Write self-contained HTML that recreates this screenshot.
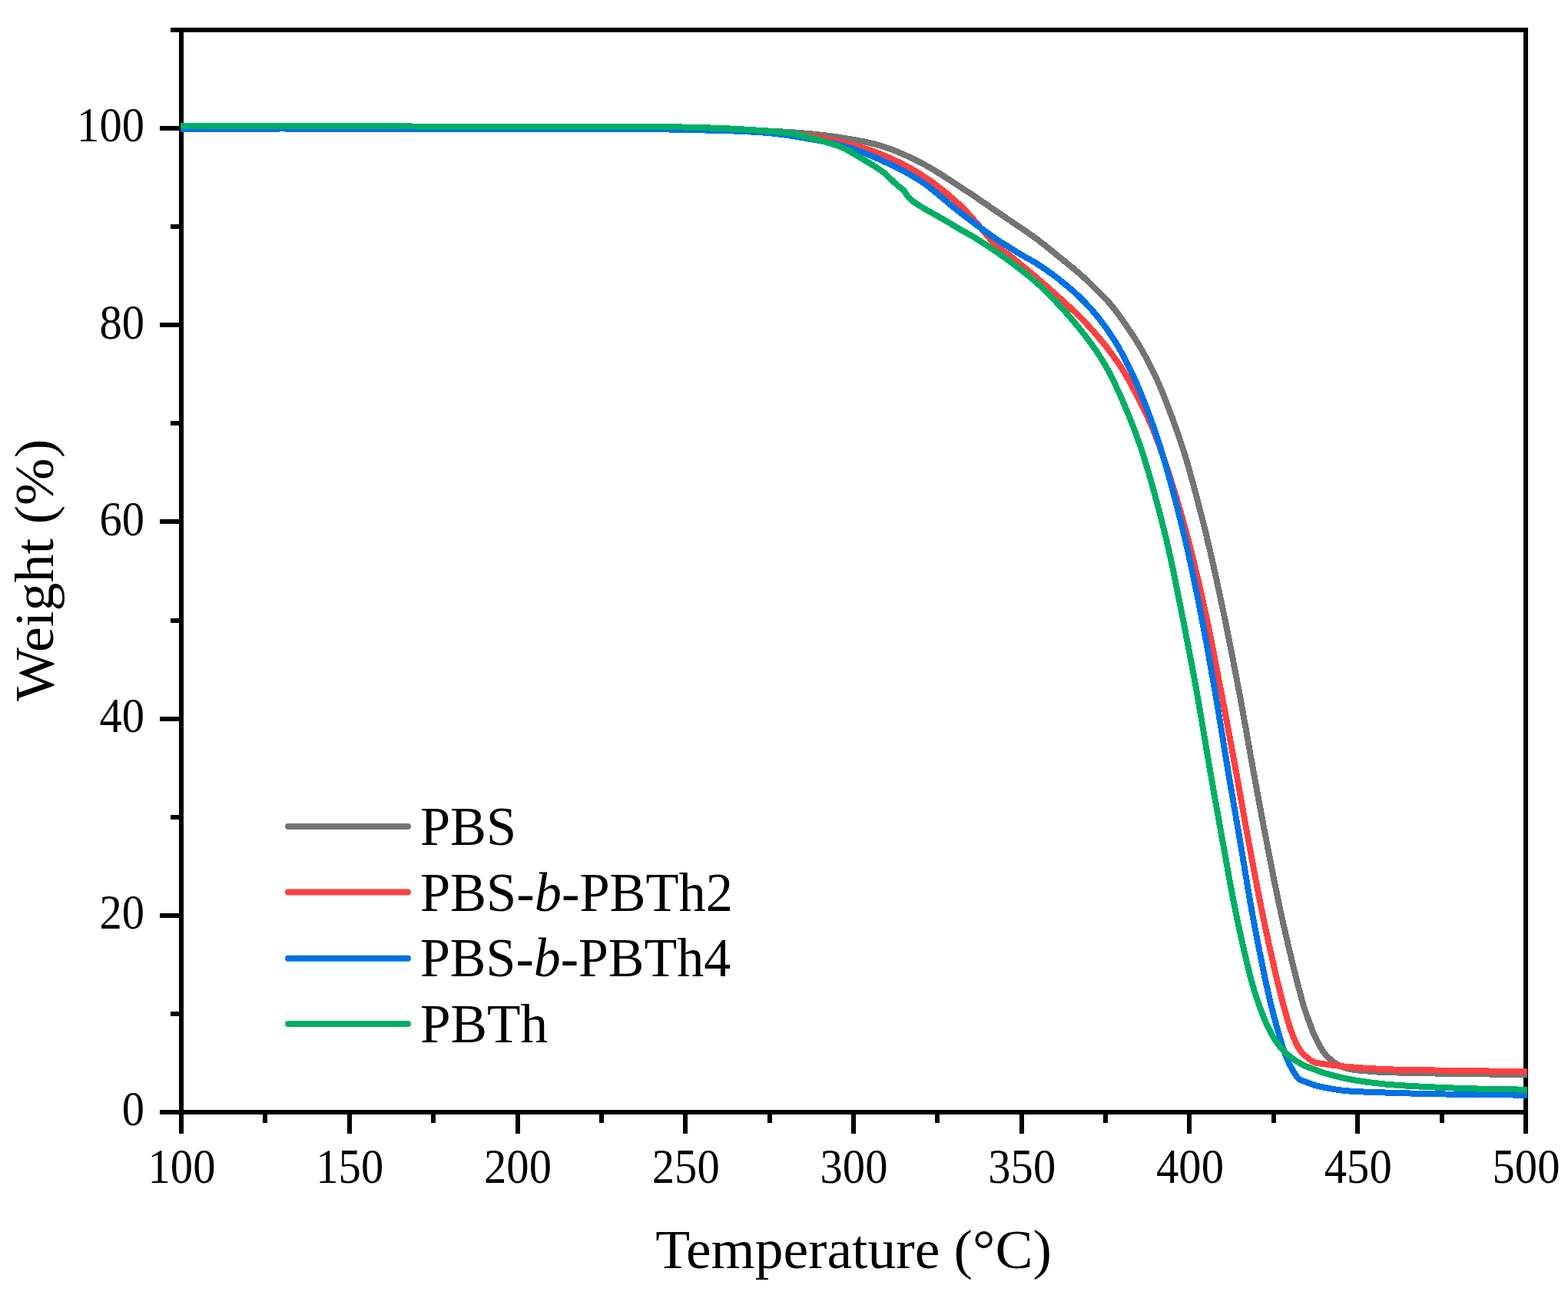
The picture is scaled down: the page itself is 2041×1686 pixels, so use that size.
<!DOCTYPE html>
<html><head><meta charset="utf-8"><title>TGA curves</title>
<style>html,body{margin:0;padding:0;background:#fff;}svg{display:block;}</style>
</head><body>
<svg width="2041" height="1686" viewBox="0 0 2041 1686"><rect width="2041" height="1686" fill="#fff"/><g stroke="#000" stroke-width="6" fill="none" stroke-linecap="butt" shape-rendering="crispEdges"><path d="M236 36 V1451 M1986 36 V1451 M233 39 H1989 M233 1448 H1989"/><path d="M208 1448 H233"/><path d="M222 1320 H233"/><path d="M208 1192 H233"/><path d="M222 1064 H233"/><path d="M208 936 H233"/><path d="M222 808 H233"/><path d="M208 679 H233"/><path d="M222 551 H233"/><path d="M208 423 H233"/><path d="M222 295 H233"/><path d="M208 167 H233"/><path d="M222 39 H233"/><path d="M236 1451 V1476"/><path d="M345 1451 V1462"/><path d="M455 1451 V1476"/><path d="M564 1451 V1462"/><path d="M674 1451 V1476"/><path d="M783 1451 V1462"/><path d="M892 1451 V1476"/><path d="M1002 1451 V1462"/><path d="M1111 1451 V1476"/><path d="M1220 1451 V1462"/><path d="M1330 1451 V1476"/><path d="M1439 1451 V1462"/><path d="M1548 1451 V1476"/><path d="M1658 1451 V1462"/><path d="M1767 1451 V1476"/><path d="M1877 1451 V1462"/><path d="M1986 1451 V1476"/></g><g fill="none" stroke-width="8" stroke-linejoin="round" stroke-linecap="butt" shape-rendering="crispEdges"><path stroke="#747474" d="M235.0 166.0 L241.1 166.0 L247.2 166.0 L253.3 166.0 L259.4 166.0 L265.6 166.0 L271.7 166.0 L277.9 166.0 L284.0 166.0 L290.2 166.0 L296.4 166.0 L302.6 166.0 L308.8 166.0 L315.0 166.0 L321.2 166.0 L327.4 166.0 L333.6 166.0 L339.8 166.0 L346.0 166.0 L352.2 166.0 L358.5 166.0 L364.7 166.0 L370.9 165.9 L377.1 165.9 L383.3 165.9 L389.5 165.9 L395.7 165.9 L401.9 165.9 L408.1 165.9 L414.3 165.9 L420.5 165.9 L426.7 165.9 L432.9 165.9 L439.0 165.9 L445.2 165.9 L451.3 165.9 L457.5 165.9 L463.6 165.9 L469.7 165.9 L475.8 165.9 L481.9 165.9 L488.0 165.9 L494.1 165.9 L500.1 165.9 L506.1 165.9 L512.1 165.9 L518.1 165.9 L524.1 165.9 L530.1 165.9 L536.0 165.9 L542.0 165.9 L547.9 165.9 L553.8 165.9 L559.6 165.9 L565.5 166.0 L571.3 166.0 L577.1 166.0 L582.8 166.0 L588.6 166.0 L594.3 166.0 L600.0 166.0 L606.5 166.0 L613.0 166.0 L619.5 166.0 L626.1 166.0 L632.7 166.0 L639.2 166.0 L645.8 166.0 L652.4 166.1 L658.9 166.1 L665.5 166.1 L672.1 166.1 L678.6 166.1 L685.2 166.1 L691.7 166.1 L698.2 166.1 L704.7 166.1 L711.2 166.1 L717.7 166.1 L724.1 166.1 L730.6 166.1 L736.9 166.1 L743.3 166.1 L749.6 166.1 L755.9 166.1 L762.2 166.1 L768.4 166.2 L774.5 166.2 L780.6 166.2 L786.7 166.2 L792.7 166.2 L798.7 166.3 L804.6 166.3 L810.4 166.3 L816.2 166.3 L821.9 166.4 L827.6 166.4 L833.2 166.5 L838.7 166.5 L844.1 166.6 L849.5 166.6 L854.8 166.7 L860.0 166.7 L865.1 166.8 L870.2 166.9 L875.1 166.9 L880.0 167.0 L887.2 167.1 L894.3 167.3 L901.2 167.4 L908.0 167.5 L914.7 167.7 L921.3 167.8 L927.8 168.0 L934.1 168.1 L940.3 168.3 L946.4 168.5 L952.3 168.7 L958.1 168.9 L963.8 169.0 L969.4 169.2 L974.8 169.4 L980.1 169.6 L985.3 169.8 L990.3 170.1 L995.2 170.3 L1000.0 170.5 L1007.3 170.9 L1014.0 171.2 L1020.3 171.6 L1026.4 171.9 L1032.2 172.3 L1038.0 172.8 L1043.9 173.2 L1050.0 173.8 L1056.3 174.4 L1062.5 175.0 L1068.8 175.7 L1075.0 176.4 L1081.3 177.2 L1087.5 178.1 L1093.8 179.0 L1100.0 180.0 L1106.3 181.1 L1112.6 182.2 L1118.8 183.3 L1125.1 184.5 L1131.4 185.9 L1137.6 187.4 L1143.8 189.0 L1150.0 190.9 L1155.6 192.8 L1161.3 194.9 L1166.9 197.1 L1172.4 199.4 L1178.0 201.8 L1183.5 204.4 L1189.0 207.0 L1194.5 209.8 L1200.0 212.6 L1205.6 215.6 L1211.3 218.8 L1216.8 222.1 L1222.4 225.6 L1227.9 229.1 L1233.5 232.6 L1239.0 236.2 L1244.5 239.8 L1250.0 243.4 L1255.0 246.7 L1260.0 250.0 L1265.1 253.3 L1270.1 256.7 L1275.1 260.1 L1280.0 263.5 L1285.0 266.9 L1290.0 270.4 L1295.0 273.8 L1300.0 277.2 L1305.1 280.6 L1310.2 284.1 L1315.4 287.6 L1320.7 291.2 L1325.9 294.7 L1331.0 298.2 L1336.0 301.6 L1340.9 305.0 L1345.6 308.4 L1350.0 311.6 L1355.5 315.8 L1360.7 319.8 L1365.6 323.7 L1370.4 327.6 L1375.1 331.5 L1380.0 335.5 L1385.0 339.6 L1390.1 343.7 L1395.1 347.8 L1400.0 351.9 L1404.8 356.0 L1409.4 360.0 L1415.0 365.1 L1420.2 370.0 L1425.3 375.0 L1430.3 380.0 L1435.1 384.9 L1439.8 389.9 L1444.3 394.9 L1448.6 400.0 L1452.4 404.8 L1456.0 409.7 L1459.6 414.7 L1463.3 420.0 L1467.2 425.6 L1471.2 431.6 L1475.4 437.8 L1479.3 444.0 L1483.0 450.0 L1486.7 456.4 L1490.1 462.6 L1493.4 468.8 L1496.6 475.0 L1499.6 481.0 L1502.5 486.9 L1505.4 493.1 L1508.5 500.0 L1510.8 505.4 L1513.2 511.2 L1515.7 517.4 L1518.2 523.9 L1520.7 530.4 L1523.2 537.1 L1525.7 543.6 L1528.0 550.0 L1530.2 556.1 L1532.3 562.1 L1534.3 567.9 L1536.4 573.9 L1538.4 579.9 L1540.4 586.2 L1542.5 592.9 L1544.6 600.0 L1546.1 605.0 L1547.6 610.2 L1549.1 615.5 L1550.6 621.1 L1552.2 626.8 L1553.8 632.7 L1555.4 638.7 L1557.0 644.7 L1558.6 650.9 L1560.2 657.0 L1561.8 663.3 L1563.4 669.5 L1565.0 675.7 L1566.5 681.9 L1568.1 688.0 L1569.6 694.0 L1571.0 700.0 L1572.4 705.9 L1573.8 711.7 L1575.2 717.6 L1576.5 723.5 L1577.9 729.4 L1579.2 735.2 L1580.5 741.1 L1581.8 747.0 L1583.1 752.9 L1584.4 758.8 L1585.6 764.7 L1586.9 770.6 L1588.2 776.4 L1589.4 782.3 L1590.6 788.2 L1591.9 794.1 L1593.1 800.0 L1594.4 806.2 L1595.7 812.5 L1597.0 818.7 L1598.2 825.0 L1599.5 831.2 L1600.7 837.5 L1602.0 843.7 L1603.2 850.0 L1604.4 856.2 L1605.6 862.5 L1606.8 868.7 L1608.0 875.0 L1609.2 881.2 L1610.4 887.5 L1611.6 893.7 L1612.8 900.0 L1614.0 906.2 L1615.1 912.5 L1616.3 918.7 L1617.4 925.0 L1618.5 931.2 L1619.6 937.5 L1620.8 943.7 L1621.9 950.0 L1623.0 956.2 L1624.1 962.5 L1625.2 968.7 L1626.3 975.0 L1627.4 981.3 L1628.5 987.5 L1629.7 993.8 L1630.8 1000.0 L1631.9 1006.3 L1633.1 1012.5 L1634.2 1018.8 L1635.4 1025.0 L1636.5 1031.3 L1637.7 1037.5 L1638.8 1043.8 L1640.0 1050.0 L1641.2 1056.3 L1642.3 1062.5 L1643.5 1068.8 L1644.7 1075.0 L1645.9 1081.3 L1647.1 1087.5 L1648.3 1093.8 L1649.5 1100.0 L1650.6 1105.9 L1651.8 1111.8 L1652.9 1117.7 L1654.1 1123.5 L1655.2 1129.4 L1656.4 1135.3 L1657.5 1141.2 L1658.7 1147.1 L1659.9 1153.0 L1661.1 1158.9 L1662.3 1164.7 L1663.5 1170.6 L1664.7 1176.5 L1666.0 1182.4 L1667.2 1188.3 L1668.5 1194.1 L1669.8 1200.0 L1671.2 1206.0 L1672.6 1212.3 L1674.1 1218.7 L1675.6 1225.2 L1677.1 1231.8 L1678.7 1238.4 L1680.3 1245.0 L1681.9 1251.6 L1683.5 1258.0 L1685.0 1264.3 L1686.5 1270.4 L1688.0 1276.2 L1689.4 1281.8 L1690.7 1286.9 L1692.0 1291.7 L1693.1 1296.1 L1694.2 1300.0 L1696.4 1307.9 L1698.3 1314.1 L1700.3 1320.0 L1703.3 1328.4 L1706.2 1336.0 L1708.1 1341.3 L1710.0 1346.0 L1711.4 1348.9 L1713.1 1352.0 L1715.8 1357.5 L1719.2 1364.1 L1722.8 1370.0 L1727.6 1375.5 L1732.6 1380.0 L1736.7 1383.3 L1741.0 1386.0 L1745.4 1388.2 L1750.0 1390.0 L1754.7 1391.4 L1760.0 1392.5 L1766.1 1393.3 L1773.1 1393.9 L1780.0 1394.5 L1786.1 1395.0 L1792.2 1395.5 L1800.0 1395.9 L1804.2 1396.1 L1808.9 1396.2 L1814.1 1396.4 L1819.8 1396.5 L1825.8 1396.7 L1832.2 1396.8 L1838.8 1397.0 L1845.6 1397.1 L1852.6 1397.2 L1859.6 1397.4 L1866.7 1397.5 L1873.7 1397.6 L1880.6 1397.7 L1887.3 1397.8 L1893.8 1397.9 L1900.0 1398.0 L1906.5 1398.1 L1912.9 1398.2 L1919.2 1398.3 L1925.6 1398.4 L1931.8 1398.4 L1938.1 1398.5 L1944.4 1398.6 L1950.6 1398.6 L1956.8 1398.7 L1963.0 1398.7 L1969.2 1398.8 L1975.5 1398.9 L1981.7 1398.9 L1988.0 1399.0"/><path stroke="#FF4040" d="M235.0 166.0 L241.1 166.0 L247.2 166.0 L253.3 166.0 L259.4 166.0 L265.6 166.0 L271.7 166.0 L277.9 166.0 L284.0 166.0 L290.2 166.0 L296.4 166.0 L302.6 166.0 L308.8 166.0 L315.0 166.0 L321.2 166.0 L327.4 166.0 L333.6 166.0 L339.8 166.0 L346.0 166.0 L352.2 166.0 L358.5 166.0 L364.7 166.0 L370.9 165.9 L377.1 165.9 L383.3 165.9 L389.5 165.9 L395.7 165.9 L401.9 165.9 L408.1 165.9 L414.3 165.9 L420.5 165.9 L426.7 165.9 L432.9 165.9 L439.0 165.9 L445.2 165.9 L451.3 165.9 L457.5 165.9 L463.6 165.9 L469.7 165.9 L475.8 165.9 L481.9 165.9 L488.0 165.9 L494.1 165.9 L500.1 165.9 L506.1 165.9 L512.1 165.9 L518.1 165.9 L524.1 165.9 L530.1 165.9 L536.0 165.9 L542.0 165.9 L547.9 165.9 L553.8 165.9 L559.6 165.9 L565.5 166.0 L571.3 166.0 L577.1 166.0 L582.8 166.0 L588.6 166.0 L594.3 166.0 L600.0 166.0 L606.5 166.0 L613.0 166.0 L619.5 166.0 L626.1 166.0 L632.7 166.0 L639.2 166.0 L645.8 166.0 L652.4 166.0 L658.9 166.0 L665.5 166.0 L672.1 166.0 L678.6 166.0 L685.2 166.0 L691.7 166.0 L698.2 166.0 L704.7 166.0 L711.2 166.0 L717.7 166.0 L724.1 166.0 L730.6 166.0 L736.9 166.0 L743.3 166.0 L749.6 166.0 L755.9 166.0 L762.2 166.0 L768.4 166.0 L774.5 166.0 L780.6 166.1 L786.7 166.1 L792.7 166.1 L798.7 166.1 L804.6 166.1 L810.4 166.2 L816.2 166.2 L821.9 166.2 L827.6 166.3 L833.2 166.3 L838.7 166.4 L844.2 166.5 L849.5 166.5 L854.8 166.6 L860.0 166.7 L865.1 166.7 L870.2 166.8 L875.1 166.9 L880.0 167.0 L887.2 167.2 L894.3 167.3 L901.2 167.5 L908.0 167.6 L914.7 167.8 L921.3 168.0 L927.8 168.2 L934.1 168.4 L940.3 168.6 L946.4 168.8 L952.3 169.0 L958.1 169.2 L963.8 169.5 L969.4 169.7 L974.8 170.0 L980.1 170.3 L985.3 170.6 L990.3 170.9 L995.2 171.2 L1000.0 171.5 L1007.3 172.0 L1014.0 172.6 L1020.4 173.2 L1026.4 173.8 L1032.2 174.4 L1038.0 175.2 L1043.9 175.9 L1050.0 176.8 L1056.3 177.7 L1062.5 178.7 L1068.8 179.7 L1075.1 180.8 L1081.3 182.0 L1087.6 183.2 L1093.8 184.6 L1100.0 186.1 L1106.3 187.7 L1112.6 189.4 L1118.9 191.2 L1125.2 193.1 L1131.4 195.2 L1137.6 197.3 L1143.8 199.6 L1150.0 202.1 L1155.7 204.5 L1161.3 207.0 L1166.9 209.7 L1172.5 212.4 L1178.1 215.3 L1183.6 218.3 L1189.1 221.4 L1194.6 224.7 L1200.0 228.1 L1205.1 231.5 L1210.3 235.0 L1215.4 238.6 L1220.4 242.4 L1225.4 246.3 L1230.4 250.3 L1235.4 254.4 L1240.3 258.6 L1245.2 263.0 L1250.0 267.4 L1254.4 271.7 L1259.0 276.5 L1263.6 281.7 L1268.3 287.0 L1272.9 292.4 L1277.5 297.8 L1281.9 303.1 L1286.1 308.1 L1290.1 312.7 L1293.8 316.8 L1297.1 320.2 L1300.0 322.9 L1305.2 326.4 L1310.0 329.3 L1314.6 332.8 L1319.6 336.9 L1324.9 341.2 L1330.0 345.5 L1334.8 349.4 L1339.6 353.3 L1344.5 357.4 L1350.0 362.0 L1354.1 365.6 L1358.7 369.6 L1363.6 373.9 L1368.7 378.4 L1373.8 383.0 L1378.9 387.6 L1383.8 392.0 L1388.3 396.2 L1392.4 400.0 L1398.0 405.3 L1403.0 410.0 L1407.8 414.8 L1412.8 420.0 L1417.1 424.6 L1421.6 429.6 L1426.1 434.7 L1430.5 439.9 L1434.9 445.0 L1438.9 450.0 L1442.9 455.1 L1446.6 460.1 L1450.2 465.0 L1453.7 470.0 L1457.1 475.0 L1461.0 481.0 L1464.6 486.9 L1468.2 493.1 L1472.0 500.0 L1474.6 504.8 L1477.3 509.9 L1480.2 515.3 L1483.1 520.9 L1486.0 526.7 L1488.9 532.6 L1491.7 538.5 L1494.4 544.3 L1497.0 550.0 L1499.6 556.1 L1502.1 562.0 L1504.4 567.9 L1506.7 573.8 L1509.0 579.9 L1511.2 586.2 L1513.6 592.9 L1516.0 600.0 L1517.7 605.0 L1519.4 610.2 L1521.1 615.5 L1522.9 621.1 L1524.7 626.8 L1526.5 632.7 L1528.4 638.6 L1530.2 644.7 L1532.1 650.8 L1533.9 657.0 L1535.7 663.2 L1537.5 669.5 L1539.3 675.7 L1541.0 681.9 L1542.7 688.0 L1544.4 694.0 L1546.0 700.0 L1547.6 705.9 L1549.1 711.7 L1550.6 717.6 L1552.1 723.5 L1553.5 729.3 L1554.9 735.2 L1556.3 741.1 L1557.7 747.0 L1559.1 752.9 L1560.5 758.8 L1561.8 764.6 L1563.1 770.5 L1564.4 776.4 L1565.7 782.3 L1567.0 788.2 L1568.3 794.1 L1569.6 800.0 L1570.9 806.2 L1572.3 812.5 L1573.6 818.7 L1574.8 825.0 L1576.1 831.2 L1577.3 837.5 L1578.6 843.7 L1579.8 850.0 L1581.0 856.2 L1582.2 862.5 L1583.4 868.7 L1584.6 875.0 L1585.8 881.2 L1587.0 887.5 L1588.2 893.7 L1589.4 900.0 L1590.6 906.2 L1591.8 912.5 L1593.0 918.7 L1594.2 925.0 L1595.3 931.2 L1596.5 937.5 L1597.7 943.7 L1598.9 950.0 L1600.0 956.2 L1601.2 962.5 L1602.3 968.7 L1603.5 975.0 L1604.7 981.2 L1605.8 987.5 L1607.0 993.7 L1608.1 1000.0 L1609.2 1006.2 L1610.4 1012.5 L1611.5 1018.7 L1612.6 1025.0 L1613.7 1031.2 L1614.8 1037.5 L1615.9 1043.8 L1617.1 1050.0 L1618.2 1056.3 L1619.3 1062.5 L1620.4 1068.8 L1621.5 1075.0 L1622.6 1081.3 L1623.8 1087.5 L1624.9 1093.8 L1626.1 1100.0 L1627.3 1106.3 L1628.4 1112.5 L1629.6 1118.8 L1630.8 1125.0 L1631.9 1131.3 L1633.1 1137.5 L1634.3 1143.8 L1635.5 1150.0 L1636.7 1156.3 L1637.9 1162.5 L1639.1 1168.8 L1640.4 1175.0 L1641.6 1181.3 L1642.9 1187.5 L1644.2 1193.8 L1645.5 1200.0 L1646.8 1205.9 L1648.0 1212.0 L1649.4 1218.1 L1650.7 1224.3 L1652.0 1230.5 L1653.4 1236.7 L1654.8 1242.9 L1656.2 1249.1 L1657.6 1255.3 L1658.9 1261.3 L1660.3 1267.3 L1661.7 1273.2 L1663.1 1278.9 L1664.4 1284.4 L1665.8 1289.8 L1667.1 1295.0 L1668.4 1300.0 L1670.3 1307.3 L1672.2 1314.3 L1674.1 1321.1 L1675.9 1327.6 L1677.8 1333.8 L1679.7 1339.6 L1681.6 1345.0 L1683.5 1350.0 L1687.0 1357.9 L1690.6 1364.7 L1694.1 1370.0 L1696.9 1373.0 L1700.0 1375.5 L1704.7 1379.5 L1710.0 1382.8 L1714.9 1384.1 L1720.0 1384.8 L1724.8 1385.5 L1730.0 1386.2 L1735.8 1386.9 L1742.4 1387.7 L1750.0 1388.5 L1755.1 1389.0 L1760.5 1389.4 L1766.3 1389.9 L1772.5 1390.4 L1779.0 1390.8 L1785.8 1391.3 L1792.8 1391.6 L1800.0 1392.0 L1805.3 1392.2 L1810.9 1392.4 L1816.7 1392.6 L1822.7 1392.7 L1828.9 1392.9 L1835.3 1393.0 L1841.7 1393.1 L1848.2 1393.2 L1854.8 1393.3 L1861.5 1393.4 L1868.1 1393.5 L1874.6 1393.5 L1881.2 1393.6 L1887.6 1393.7 L1893.9 1393.8 L1900.0 1393.9 L1906.5 1394.0 L1912.9 1394.1 L1919.2 1394.2 L1925.6 1394.3 L1931.8 1394.4 L1938.1 1394.5 L1944.4 1394.6 L1950.6 1394.7 L1956.8 1394.8 L1963.0 1394.8 L1969.2 1394.9 L1975.5 1395.0 L1981.7 1395.1 L1988.0 1395.2"/><path stroke="#0072E4" d="M235.0 167.6 L241.1 167.6 L247.2 167.6 L253.3 167.6 L259.4 167.6 L265.6 167.6 L271.7 167.6 L277.9 167.6 L284.0 167.6 L290.2 167.6 L296.4 167.6 L302.6 167.6 L308.8 167.6 L315.0 167.6 L321.2 167.6 L327.4 167.6 L333.6 167.6 L339.8 167.6 L346.0 167.6 L352.2 167.6 L358.5 167.6 L364.7 167.5 L370.9 167.5 L377.1 167.5 L383.3 167.5 L389.5 167.5 L395.7 167.5 L401.9 167.5 L408.1 167.5 L414.3 167.5 L420.5 167.5 L426.7 167.5 L432.9 167.5 L439.0 167.5 L445.2 167.5 L451.3 167.5 L457.5 167.5 L463.6 167.5 L469.7 167.5 L475.8 167.5 L481.9 167.5 L488.0 167.5 L494.1 167.5 L500.1 167.5 L506.1 167.5 L512.1 167.5 L518.1 167.5 L524.1 167.5 L530.1 167.5 L536.0 167.5 L542.0 167.5 L547.9 167.5 L553.8 167.5 L559.6 167.5 L565.5 167.5 L571.3 167.6 L577.1 167.6 L582.8 167.6 L588.6 167.6 L594.3 167.6 L600.0 167.6 L606.5 167.6 L613.0 167.6 L619.5 167.6 L626.1 167.6 L632.7 167.6 L639.2 167.6 L645.8 167.6 L652.4 167.6 L658.9 167.6 L665.5 167.6 L672.1 167.6 L678.6 167.6 L685.2 167.6 L691.7 167.6 L698.2 167.6 L704.7 167.6 L711.2 167.6 L717.7 167.6 L724.1 167.6 L730.6 167.6 L736.9 167.6 L743.3 167.7 L749.6 167.7 L755.9 167.7 L762.2 167.7 L768.4 167.7 L774.5 167.7 L780.6 167.7 L786.7 167.8 L792.7 167.8 L798.7 167.8 L804.6 167.8 L810.4 167.9 L816.2 167.9 L821.9 167.9 L827.6 168.0 L833.2 168.0 L838.7 168.1 L844.2 168.2 L849.5 168.2 L854.8 168.3 L860.0 168.4 L865.1 168.4 L870.2 168.5 L875.1 168.6 L880.0 168.7 L887.2 168.8 L894.3 169.0 L901.2 169.1 L908.0 169.3 L914.7 169.4 L921.3 169.6 L927.8 169.7 L934.1 169.9 L940.3 170.0 L946.4 170.2 L952.3 170.4 L958.2 170.6 L963.8 170.9 L969.4 171.1 L974.8 171.4 L980.1 171.7 L985.3 172.0 L990.3 172.3 L995.2 172.7 L1000.0 173.1 L1007.3 173.8 L1014.0 174.6 L1020.4 175.4 L1026.4 176.2 L1032.2 177.1 L1038.0 178.1 L1043.9 179.1 L1050.0 180.2 L1056.3 181.3 L1062.5 182.4 L1068.8 183.5 L1075.1 184.7 L1081.3 186.0 L1087.6 187.4 L1093.8 189.0 L1100.0 190.7 L1106.3 192.6 L1112.6 194.7 L1118.9 197.0 L1125.2 199.3 L1131.4 201.8 L1137.6 204.4 L1143.8 207.1 L1150.0 209.9 L1155.6 212.5 L1161.3 215.2 L1166.9 218.0 L1172.5 220.8 L1178.1 223.8 L1183.6 226.9 L1189.1 230.1 L1194.6 233.4 L1200.0 236.9 L1205.1 240.4 L1210.2 244.2 L1215.2 248.1 L1220.2 252.2 L1225.1 256.4 L1230.1 260.5 L1235.0 264.7 L1240.0 268.9 L1245.0 273.0 L1250.0 276.9 L1255.1 280.8 L1260.5 284.9 L1266.1 289.0 L1271.7 293.2 L1277.3 297.3 L1282.7 301.2 L1287.7 304.8 L1292.4 308.1 L1296.5 311.0 L1300.0 313.4 L1305.2 316.7 L1310.0 319.6 L1316.2 323.5 L1323.1 327.8 L1330.0 332.0 L1336.6 335.7 L1343.2 339.4 L1350.0 343.4 L1355.8 347.2 L1361.7 351.3 L1367.7 355.6 L1373.6 360.0 L1378.6 363.8 L1383.5 367.8 L1388.5 371.8 L1393.3 375.9 L1398.0 380.0 L1403.3 384.9 L1408.4 389.9 L1413.3 394.9 L1418.1 400.0 L1422.4 404.8 L1426.5 409.6 L1430.5 414.6 L1434.6 420.0 L1438.0 424.6 L1441.5 429.6 L1445.0 434.7 L1448.5 439.9 L1451.8 445.0 L1454.8 450.0 L1458.4 456.3 L1461.7 462.6 L1464.8 468.8 L1467.9 475.0 L1470.9 481.0 L1473.9 486.9 L1476.8 493.1 L1479.9 500.0 L1482.2 505.4 L1484.6 511.2 L1487.1 517.4 L1489.6 523.9 L1492.2 530.4 L1494.7 537.0 L1497.1 543.6 L1499.4 550.0 L1501.6 556.1 L1503.6 562.0 L1505.6 567.9 L1507.6 573.9 L1509.6 579.9 L1511.5 586.2 L1513.6 592.9 L1515.7 600.0 L1517.2 605.0 L1518.6 610.2 L1520.2 615.6 L1521.7 621.1 L1523.3 626.8 L1524.9 632.7 L1526.5 638.7 L1528.1 644.7 L1529.8 650.9 L1531.4 657.0 L1533.0 663.3 L1534.6 669.5 L1536.2 675.7 L1537.7 681.9 L1539.2 688.0 L1540.7 694.0 L1542.1 700.0 L1543.5 705.9 L1544.8 711.7 L1546.2 717.6 L1547.5 723.5 L1548.8 729.4 L1550.1 735.2 L1551.3 741.1 L1552.6 747.0 L1553.8 752.9 L1555.0 758.8 L1556.2 764.7 L1557.4 770.5 L1558.6 776.4 L1559.8 782.3 L1561.0 788.2 L1562.1 794.1 L1563.3 800.0 L1564.5 806.2 L1565.7 812.5 L1566.9 818.7 L1568.1 825.0 L1569.3 831.2 L1570.4 837.5 L1571.6 843.7 L1572.7 850.0 L1573.8 856.2 L1574.9 862.5 L1576.0 868.7 L1577.1 875.0 L1578.2 881.2 L1579.3 887.5 L1580.4 893.7 L1581.5 900.0 L1582.6 906.2 L1583.6 912.5 L1584.7 918.7 L1585.7 925.0 L1586.7 931.2 L1587.7 937.5 L1588.8 943.7 L1589.8 950.0 L1590.8 956.2 L1591.8 962.5 L1592.8 968.7 L1593.8 975.0 L1594.8 981.3 L1595.8 987.5 L1596.9 993.8 L1597.9 1000.0 L1598.9 1006.3 L1600.0 1012.5 L1601.1 1018.8 L1602.1 1025.0 L1603.2 1031.3 L1604.3 1037.5 L1605.3 1043.8 L1606.4 1050.0 L1607.5 1056.3 L1608.6 1062.5 L1609.6 1068.8 L1610.7 1075.0 L1611.8 1081.3 L1612.9 1087.5 L1613.9 1093.7 L1615.0 1100.0 L1616.1 1106.3 L1617.1 1112.5 L1618.1 1118.8 L1619.2 1125.0 L1620.2 1131.3 L1621.2 1137.5 L1622.3 1143.8 L1623.3 1150.0 L1624.3 1156.3 L1625.4 1162.5 L1626.4 1168.8 L1627.5 1175.0 L1628.6 1181.3 L1629.7 1187.5 L1630.8 1193.8 L1632.0 1200.0 L1633.1 1205.9 L1634.3 1212.0 L1635.4 1218.1 L1636.6 1224.3 L1637.8 1230.5 L1639.1 1236.7 L1640.3 1242.9 L1641.6 1249.1 L1642.8 1255.3 L1644.0 1261.3 L1645.3 1267.3 L1646.5 1273.1 L1647.8 1278.9 L1649.0 1284.4 L1650.2 1289.8 L1651.3 1295.0 L1652.5 1300.0 L1654.2 1307.2 L1656.0 1314.3 L1657.7 1321.0 L1659.4 1327.5 L1661.1 1333.7 L1662.7 1339.5 L1664.3 1345.0 L1665.7 1350.0 L1668.0 1357.6 L1670.0 1364.2 L1672.0 1370.0 L1673.9 1375.2 L1675.9 1380.0 L1678.2 1385.0 L1680.8 1390.0 L1683.8 1395.3 L1686.8 1400.0 L1688.7 1402.7 L1691.0 1405.0 L1695.2 1407.0 L1700.0 1408.7 L1705.0 1410.7 L1710.0 1412.5 L1715.0 1413.9 L1720.0 1415.0 L1724.8 1416.0 L1730.0 1417.0 L1735.8 1418.0 L1742.4 1419.1 L1750.0 1420.0 L1755.0 1420.4 L1760.5 1420.8 L1766.3 1421.1 L1772.5 1421.4 L1779.0 1421.7 L1785.8 1421.9 L1792.8 1422.1 L1800.0 1422.4 L1805.3 1422.6 L1810.9 1422.8 L1816.7 1422.9 L1822.7 1423.1 L1828.9 1423.3 L1835.3 1423.5 L1841.7 1423.6 L1848.3 1423.8 L1854.8 1423.9 L1861.5 1424.1 L1868.1 1424.2 L1874.6 1424.3 L1881.2 1424.5 L1887.6 1424.6 L1893.9 1424.7 L1900.0 1424.8 L1906.5 1424.9 L1912.9 1425.0 L1919.2 1425.1 L1925.6 1425.2 L1931.8 1425.2 L1938.1 1425.3 L1944.4 1425.3 L1950.6 1425.4 L1956.8 1425.4 L1963.0 1425.5 L1969.2 1425.5 L1975.5 1425.6 L1981.7 1425.6 L1988.0 1425.7"/><path stroke="#00AF66" d="M235.0 163.9 L241.1 163.9 L247.2 163.9 L253.3 163.9 L259.4 163.9 L265.6 164.0 L271.7 164.0 L277.9 164.0 L284.0 164.0 L290.2 164.0 L296.4 164.0 L302.6 164.0 L308.8 164.0 L315.0 164.0 L321.2 164.1 L327.4 164.1 L333.6 164.1 L339.8 164.1 L346.0 164.1 L352.2 164.1 L358.5 164.1 L364.7 164.1 L370.9 164.1 L377.1 164.2 L383.3 164.2 L389.5 164.2 L395.7 164.2 L401.9 164.2 L408.1 164.2 L414.3 164.2 L420.5 164.2 L426.7 164.2 L432.9 164.3 L439.0 164.3 L445.2 164.3 L451.3 164.3 L457.5 164.3 L463.6 164.3 L469.7 164.3 L475.8 164.3 L481.9 164.3 L488.0 164.4 L494.1 164.4 L500.1 164.4 L506.1 164.4 L512.1 164.4 L518.1 164.4 L524.1 164.4 L530.1 164.4 L536.0 164.5 L542.0 164.5 L547.9 164.5 L553.8 164.5 L559.6 164.5 L565.5 164.5 L571.3 164.5 L577.1 164.5 L582.8 164.6 L588.6 164.6 L594.3 164.6 L600.0 164.6 L606.5 164.6 L613.1 164.6 L619.8 164.6 L626.5 164.7 L633.2 164.7 L640.0 164.7 L646.8 164.7 L653.7 164.7 L660.6 164.7 L667.5 164.7 L674.4 164.7 L681.3 164.7 L688.3 164.7 L695.2 164.7 L702.1 164.7 L709.0 164.7 L715.9 164.7 L722.7 164.8 L729.6 164.8 L736.3 164.8 L743.1 164.8 L749.8 164.8 L756.4 164.8 L762.9 164.8 L769.4 164.8 L775.9 164.8 L782.2 164.8 L788.5 164.9 L794.6 164.9 L800.7 164.9 L806.7 164.9 L812.5 164.9 L818.3 164.9 L823.9 165.0 L829.4 165.0 L834.8 165.0 L840.0 165.0 L845.1 165.1 L850.1 165.1 L854.8 165.1 L859.5 165.2 L863.9 165.2 L868.2 165.3 L872.3 165.3 L876.3 165.3 L880.0 165.4 L888.3 165.5 L895.6 165.7 L902.1 165.8 L908.0 165.9 L913.6 166.1 L919.2 166.3 L924.9 166.5 L931.0 166.7 L937.7 167.0 L944.6 167.3 L951.7 167.6 L958.7 168.0 L965.6 168.3 L972.0 168.7 L977.9 169.1 L983.0 169.4 L991.7 170.1 L1000.0 170.8 L1006.3 171.3 L1013.4 171.8 L1020.8 172.4 L1027.8 173.1 L1034.0 174.0 L1042.1 176.0 L1050.0 178.4 L1055.5 179.8 L1061.6 181.4 L1068.0 183.0 L1074.3 184.7 L1080.0 186.4 L1087.0 188.7 L1093.6 191.0 L1100.0 193.7 L1106.5 197.2 L1112.8 201.1 L1119.2 205.0 L1125.9 209.0 L1132.7 213.0 L1138.8 216.8 L1144.5 220.5 L1150.0 224.5 L1154.5 228.4 L1159.3 233.0 L1164.1 237.5 L1168.2 241.3 L1172.4 244.5 L1176.1 247.6 L1179.4 252.4 L1183.0 257.5 L1187.2 261.1 L1192.1 264.6 L1197.6 268.2 L1202.7 271.3 L1208.5 274.7 L1214.5 278.0 L1220.2 281.2 L1225.0 283.9 L1230.7 287.2 L1236.0 290.3 L1242.9 294.5 L1250.2 298.9 L1255.2 301.7 L1260.3 304.4 L1266.0 307.7 L1271.2 310.9 L1277.2 314.8 L1283.5 318.9 L1289.7 323.1 L1295.4 326.9 L1300.0 330.0 L1305.0 333.4 L1310.0 337.0 L1313.8 339.8 L1318.3 343.2 L1323.4 347.1 L1328.8 351.2 L1334.3 355.6 L1339.9 360.0 L1345.1 364.4 L1350.0 368.6 L1354.8 373.0 L1359.6 377.6 L1364.3 382.3 L1368.8 386.9 L1373.2 391.4 L1377.3 395.8 L1381.2 400.0 L1386.0 405.2 L1390.2 409.9 L1394.4 414.8 L1398.8 420.0 L1402.6 424.6 L1406.6 429.6 L1410.7 434.7 L1414.7 439.9 L1418.6 445.0 L1422.2 450.0 L1426.6 456.3 L1430.7 462.5 L1434.7 468.7 L1438.4 475.0 L1441.8 481.0 L1444.9 486.9 L1448.1 493.1 L1451.4 500.0 L1453.6 504.8 L1456.0 509.9 L1458.4 515.3 L1460.9 521.0 L1463.4 526.8 L1465.9 532.6 L1468.3 538.5 L1470.7 544.3 L1472.9 550.0 L1475.3 556.1 L1477.5 562.0 L1479.7 567.9 L1481.8 573.8 L1483.9 579.9 L1486.0 586.2 L1488.2 592.9 L1490.4 600.0 L1491.9 605.0 L1493.5 610.2 L1495.1 615.5 L1496.7 621.1 L1498.4 626.8 L1500.0 632.7 L1501.7 638.6 L1503.3 644.7 L1505.0 650.8 L1506.7 657.0 L1508.3 663.2 L1509.9 669.5 L1511.6 675.7 L1513.1 681.9 L1514.7 688.0 L1516.2 694.0 L1517.6 700.0 L1519.0 705.9 L1520.4 711.7 L1521.7 717.6 L1523.0 723.5 L1524.3 729.4 L1525.5 735.2 L1526.8 741.1 L1528.0 747.0 L1529.2 752.9 L1530.4 758.8 L1531.6 764.7 L1532.8 770.6 L1533.9 776.4 L1535.1 782.3 L1536.3 788.2 L1537.4 794.1 L1538.6 800.0 L1539.8 806.2 L1541.1 812.5 L1542.3 818.7 L1543.5 825.0 L1544.7 831.2 L1546.0 837.5 L1547.2 843.7 L1548.3 850.0 L1549.5 856.2 L1550.7 862.5 L1551.9 868.7 L1553.0 875.0 L1554.2 881.2 L1555.3 887.5 L1556.5 893.7 L1557.6 900.0 L1558.7 906.2 L1559.8 912.5 L1560.9 918.7 L1562.0 925.0 L1563.0 931.2 L1564.1 937.5 L1565.1 943.7 L1566.2 950.0 L1567.2 956.2 L1568.3 962.5 L1569.3 968.7 L1570.3 975.0 L1571.4 981.3 L1572.5 987.5 L1573.5 993.8 L1574.6 1000.0 L1575.7 1006.3 L1576.8 1012.5 L1577.9 1018.8 L1579.0 1025.0 L1580.0 1031.3 L1581.1 1037.5 L1582.2 1043.8 L1583.3 1050.0 L1584.4 1056.3 L1585.6 1062.5 L1586.7 1068.8 L1587.8 1075.0 L1588.9 1081.3 L1590.0 1087.5 L1591.2 1093.8 L1592.3 1100.0 L1593.4 1106.3 L1594.6 1112.5 L1595.7 1118.8 L1596.8 1125.0 L1597.9 1131.3 L1599.0 1137.5 L1600.1 1143.8 L1601.3 1150.0 L1602.4 1156.3 L1603.6 1162.5 L1604.8 1168.8 L1606.0 1175.0 L1607.2 1181.3 L1608.5 1187.5 L1609.8 1193.8 L1611.1 1200.0 L1612.4 1206.0 L1613.7 1212.0 L1615.1 1218.1 L1616.4 1224.3 L1617.8 1230.6 L1619.2 1236.8 L1620.6 1243.0 L1622.1 1249.2 L1623.5 1255.4 L1625.0 1261.4 L1626.5 1267.4 L1628.0 1273.3 L1629.6 1279.0 L1631.1 1284.5 L1632.7 1289.9 L1634.3 1295.1 L1635.9 1300.0 L1638.1 1306.5 L1640.4 1312.9 L1642.8 1319.0 L1645.1 1324.9 L1647.5 1330.5 L1650.0 1335.9 L1652.4 1340.9 L1654.8 1345.6 L1657.3 1350.0 L1661.1 1356.0 L1664.9 1361.2 L1668.7 1365.9 L1672.6 1370.0 L1679.3 1375.7 L1685.3 1380.0 L1687.7 1381.7 L1690.0 1383.1 L1694.7 1385.7 L1700.0 1388.3 L1705.0 1390.2 L1710.0 1392.0 L1715.0 1393.9 L1720.0 1395.8 L1724.8 1397.3 L1730.0 1398.7 L1735.8 1400.3 L1742.4 1402.1 L1750.0 1403.8 L1755.0 1404.8 L1760.5 1405.8 L1766.3 1406.8 L1772.5 1407.7 L1779.0 1408.7 L1785.7 1409.6 L1792.8 1410.4 L1800.0 1411.2 L1805.3 1411.7 L1810.9 1412.2 L1816.7 1412.6 L1822.7 1413.1 L1828.9 1413.5 L1835.2 1413.9 L1841.7 1414.2 L1848.2 1414.6 L1854.8 1414.9 L1861.4 1415.2 L1868.1 1415.5 L1874.6 1415.8 L1881.1 1416.1 L1887.6 1416.3 L1893.9 1416.6 L1900.0 1416.8 L1906.5 1417.0 L1912.9 1417.3 L1919.2 1417.4 L1925.5 1417.6 L1931.8 1417.7 L1938.1 1417.9 L1944.3 1418.0 L1950.6 1418.1 L1956.8 1418.2 L1963.0 1418.3 L1969.2 1418.4 L1975.5 1418.5 L1981.7 1418.7 L1988.0 1418.8"/></g><g font-family="Liberation Serif, serif" font-size="63" fill="#000"><text transform="translate(188.0 0) scale(0.93 1)" x="0" y="1465.3" text-anchor="end">0</text><text transform="translate(188.0 0) scale(0.93 1)" x="0" y="1209.1" text-anchor="end">20</text><text transform="translate(188.0 0) scale(0.93 1)" x="0" y="952.9" text-anchor="end">40</text><text transform="translate(188.0 0) scale(0.93 1)" x="0" y="696.8" text-anchor="end">60</text><text transform="translate(188.0 0) scale(0.93 1)" x="0" y="440.6" text-anchor="end">80</text><text transform="translate(188.0 0) scale(0.93 1)" x="0" y="184.4" text-anchor="end">100</text><text transform="translate(236.50 0) scale(0.93 1)" x="0" y="1540" text-anchor="middle">100</text><text transform="translate(455.25 0) scale(0.93 1)" x="0" y="1540" text-anchor="middle">150</text><text transform="translate(674.00 0) scale(0.93 1)" x="0" y="1540" text-anchor="middle">200</text><text transform="translate(892.75 0) scale(0.93 1)" x="0" y="1540" text-anchor="middle">250</text><text transform="translate(1111.50 0) scale(0.93 1)" x="0" y="1540" text-anchor="middle">300</text><text transform="translate(1330.25 0) scale(0.93 1)" x="0" y="1540" text-anchor="middle">350</text><text transform="translate(1549.00 0) scale(0.93 1)" x="0" y="1540" text-anchor="middle">400</text><text transform="translate(1767.75 0) scale(0.93 1)" x="0" y="1540" text-anchor="middle">450</text><text transform="translate(1986.50 0) scale(0.93 1)" x="0" y="1540" text-anchor="middle">500</text></g><g font-family="Liberation Serif, serif" font-size="72" fill="#000"><text transform="matrix(1.02016 0 0 1 -21.317 0)" x="1110" y="1650.8" text-anchor="middle">Temperature (°C)</text><text transform="translate(69.1 742.258) rotate(-90) scale(1.02796 1)" text-anchor="middle">Weight (%)</text></g><g font-family="Liberation Serif, serif" font-size="72" fill="#000"><path d="M375 1075.9 H531" stroke="#747474" stroke-width="8" stroke-linecap="round"/><text transform="matrix(0.97787 0 0 1 12.050 0)" x="547" y="1099.9">PBS</text><path d="M375 1161.4 H531" stroke="#FF4040" stroke-width="8" stroke-linecap="round"/><text transform="matrix(0.97854 0 0 1 11.683 0)" x="547" y="1185.7">PBS-<tspan font-style="italic">b</tspan>-PBTh2</text><path d="M375 1247.8 H531" stroke="#0072E4" stroke-width="8" stroke-linecap="round"/><text transform="matrix(0.97143 0 0 1 15.586 0)" x="547" y="1271.1">PBS-<tspan font-style="italic">b</tspan>-PBTh4</text><path d="M375 1333.1 H531" stroke="#00AF66" stroke-width="8" stroke-linecap="round"/><text transform="matrix(0.98848 0 0 1 6.222 0)" x="547" y="1356.9">PBTh</text></g></svg>
</body></html>
